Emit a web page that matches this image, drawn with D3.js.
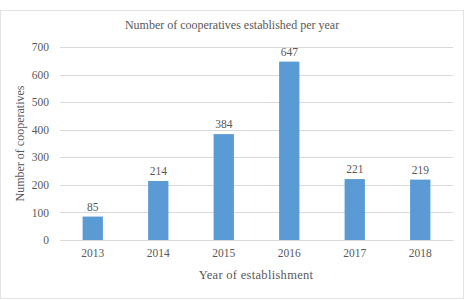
<!DOCTYPE html>
<html lang="en">
<head>
<meta charset="UTF-8">
<script src="https://d3js.org/d3.v7.min.js"></script>
<style>
  body { margin: 0; background: #fff; }
  text { font-family: "Liberation Serif", "Times New Roman", serif; fill: #595959; }
</style>
</head>
<body>
<svg id="canvas"></svg>
<script>
// data
let years = ['2013', '2014', '2015', '2016', '2017', '2018']
let counts = [85, 214, 384, 647, 221, 219]
let yTicks = [0, 100, 200, 300, 400, 500, 600, 700]

let width = 469
let height = 300
let padLeft = 60, padRight = 453, padTop = 47, padBottom = 240

let canvas = d3.select('#canvas')
    .attr('width', width)
    .attr('height', height)

// chart frame
canvas.append('rect')
    .attr('x', 0.5).attr('y', 10.5)
    .attr('width', 463).attr('height', 288)
    .attr('fill', '#fff')
    .attr('stroke', '#e3e3e3')

let xScale = d3.scaleBand()
    .domain(years)
    .range([padLeft, padRight])
    .paddingInner(0.69)
    .paddingOuter(0.345)

let yScale = d3.scaleLinear()
    .domain([0, 700])
    .range([padBottom, padTop])

// gridlines
canvas.append('g')
    .selectAll('line')
    .data(yTicks)
    .enter()
    .append('line')
    .attr('x1', padLeft).attr('x2', padRight)
    .attr('y1', d => Math.round(yScale(d)) + 0.5)
    .attr('y2', d => Math.round(yScale(d)) + 0.5)
    .attr('stroke', '#d9d9d9')

// bars
canvas.selectAll('.bar')
    .data(counts)
    .enter()
    .append('rect')
    .attr('class', 'bar')
    .attr('x', (d, i) => xScale(years[i]))
    .attr('width', xScale.bandwidth())
    .attr('y', d => yScale(d))
    .attr('height', d => yScale(0) - yScale(d))
    .attr('fill', '#5b9bd5')

// value labels
canvas.selectAll('.val')
    .data(counts)
    .enter()
    .append('text')
    .attr('class', 'val')
    .attr('x', (d, i) => xScale(years[i]) + xScale.bandwidth() / 2)
    .attr('y', d => yScale(d) - 6)
    .attr('text-anchor', 'middle')
    .style('font-size', '11.5px')
    .text(d => d)

// axes
let yAxis = d3.axisLeft(yScale).tickValues(yTicks).tickSize(0).tickPadding(11)
let gy = canvas.append('g')
    .attr('transform', 'translate(' + padLeft + ',0)')
    .call(yAxis)
gy.attr('font-family', null).attr('font-size', null)
gy.select('.domain').remove()
gy.selectAll('text').style('font-size', '11.5px').attr('fill', '#595959')

let xAxis = d3.axisBottom(xScale).tickSize(0).tickPadding(9)
let gx = canvas.append('g')
    .attr('transform', 'translate(0,' + padBottom + ')')
    .call(xAxis)
gx.attr('font-family', null).attr('font-size', null)
gx.select('.domain').attr('stroke', '#d9d9d9')
gx.selectAll('text').style('font-size', '11.5px').attr('fill', '#595959')

// titles
canvas.append('text')
    .attr('x', 232).attr('y', 29)
    .attr('text-anchor', 'middle')
    .style('font-size', '12px')
    .text('Number of cooperatives established per year')

canvas.append('text')
    .attr('x', 256).attr('y', 279)
    .attr('text-anchor', 'middle')
    .style('font-size', '12.5px')
    .style('letter-spacing', '0.3px')
    .text('Year of establishment')

canvas.append('text')
    .attr('transform', 'translate(24,' + ((padTop + padBottom) / 2) + ') rotate(-90)')
    .attr('text-anchor', 'middle')
    .style('font-size', '12px')
    .text('Number of cooperatives')
</script>
</body>
</html>
